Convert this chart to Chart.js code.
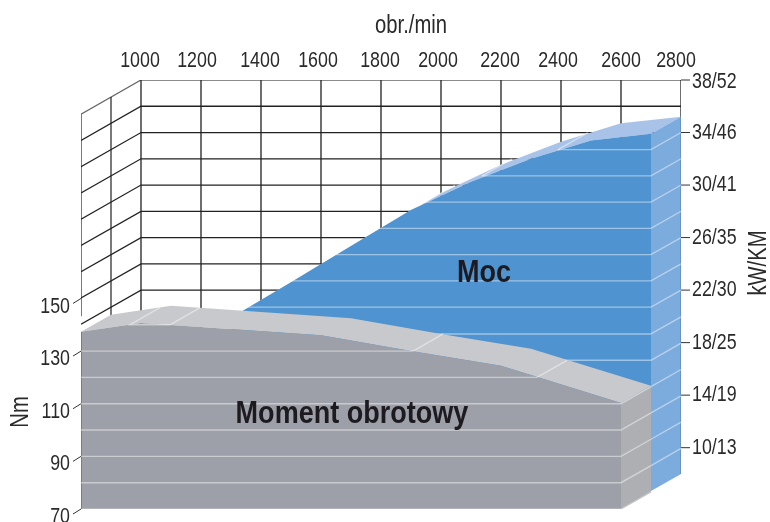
<!DOCTYPE html>
<html>
<head>
<meta charset="utf-8">
<title>Moc i moment obrotowy</title>
<script src="https://cdn.jsdelivr.net/npm/chart.js@4"></script>
<style>
    body { margin: 0; background: #fff; }
</style>
</head>
<body>
<canvas id="myChart" width="770" height="522"></canvas>
<script>
/* dane */
const rpmTicks = [1000, 1200, 1400, 1600, 1800, 2000, 2200, 2400, 2600, 2800];
const nmTicks = [150, 130, 110, 90, 70];
const kwTicks = [38, 34, 30, 26, 22, 18, 14, 10];
const kwLabels = ['38/52', '34/46', '30/41', '26/35', '22/30', '18/25', '14/19', '10/13'];

const torqueRpm = [1000, 1200, 1800, 2100, 2400, 2800];
const torqueNm = [137.3, 140.7, 136, 130, 124.4, 110.3];

const powerRpm = [1400, 1600, 1800, 2000, 2200, 2400, 2600, 2800];
const powerKw = [21.2, 23.9, 26.65, 29.4, 31.55, 33.3, 34.7, 35.2];

// linie siatki na szarej i niebieskiej scianie
const gridNm = [80, 90, 100, 110, 120, 130];
const gridNmEnd = [2800, 2800, 2800, 2800, 2520, 2107];
const gridKw = [22, 24, 26, 28, 30, 32, 34];
const gridKwStart = [1447, 1603, 1750, 1897, 2047, 2237, 2490];
const wallKw = [38, 36, 34, 32, 30, 28, 26, 24, 22];

// przesuniecie jednej warstwy w glab wykresu
const layerRpm = 100;
const layerNm = 6.5;
const layerKw = 1.3;
const kwBottom = 8;

const grayFront = '#9da0a8';
const grayTop = '#c7c9cd';
const graySide = '#adafb2';
const blueFront = '#4f94d0';
const blueTop = '#a9c3e8';
const blueSide = '#7cabdd';
const gridWhite = 'rgba(255, 255, 255, 0.45)';
const wallColor = '#222';

let datasets = [];

function addLine(points, axis, color, width) {
    datasets.push({
        data: points,
        yAxisID: axis,
        borderColor: color,
        borderWidth: width,
        pointRadius: 0,
        fill: false,
        tension: 0,
        order: 1000 - datasets.length
    });
}

function addArea(points, axis, color, base) {
    datasets.push({
        data: points,
        yAxisID: axis,
        borderWidth: 0,
        backgroundColor: color,
        pointRadius: 0,
        fill: { target: { value: base } },
        tension: 0,
        order: 1000 - datasets.length
    });
}

function addBand(upper, lower, axis, color) {
    addLine(lower, axis, 'transparent', 0);
    datasets.push({
        data: upper,
        yAxisID: axis,
        borderWidth: 0,
        backgroundColor: color,
        pointRadius: 0,
        fill: datasets.length - 1,
        tension: 0,
        order: 1000 - datasets.length
    });
}

/* sciany z siatka */
wallKw.forEach(function (kw, i) {
    addLine([{ x: 800, y: kw - 2 * layerKw }, { x: 1000, y: kw }, { x: 2800, y: kw }], 'yKw', i === 0 ? '#666' : wallColor, 1.3);
});
rpmTicks.forEach(function (rpm) {
    addLine([{ x: rpm, y: 38 }, { x: rpm, y: 18 }], 'yKw', wallColor, 1.3);
});
addLine([{ x: 800, y: 38 - 2 * layerKw }, { x: 800, y: 20 }], 'yKw', wallColor, 1.2);
addLine([{ x: 900, y: 38 - layerKw }, { x: 900, y: 20 }], 'yKw', wallColor, 1.2);

/* moc */
const powerLast = powerKw[powerKw.length - 1];
const powerFront = powerRpm.map(function (rpm, i) {
    return { x: rpm - layerRpm, y: powerKw[i] - layerKw };
});
const powerBack = powerRpm.map(function (rpm, i) {
    return { x: rpm, y: powerKw[i] };
});
addBand(
    [powerFront[0]].concat(powerBack),
    powerFront.concat([{ x: 2800, y: powerLast }]),
    'yKw', blueTop
);
addArea(powerFront, 'yKw', blueFront, kwBottom - layerKw);
addBand(
    [{ x: 2700, y: powerLast - layerKw }, { x: 2800, y: powerLast }],
    [{ x: 2700, y: kwBottom - layerKw }, { x: 2800, y: kwBottom }],
    'yKw', blueSide
);
addLine([{ x: 2800, y: powerLast }, { x: 2800, y: kwBottom }], 'yKw', '#5d84ae', 1.2);

gridKw.forEach(function (kw, i) {
    let start = gridKwStart[i] - layerRpm;
    addLine([{ x: start, y: kw - layerKw }, { x: 2700, y: kw - layerKw }, { x: 2800, y: kw }], 'yKw', gridWhite, 1.4);
    if (kw >= 30) {
        addLine([{ x: start, y: kw - layerKw }, { x: start + layerRpm, y: kw }], 'yKw', gridWhite, 1.4);
    }
});

// dalsze linie niebieskiej sciany, tez na poziomach momentu
gridNm.forEach(function (nm) {
    addLine([{ x: 2700, y: nm + layerNm }, { x: 2800, y: nm + 2 * layerNm }], 'yNm', gridWhite, 1.4);
});
addLine([{ x: 1907, y: 130 + layerNm }, { x: 2700, y: 130 + layerNm }], 'yNm', gridWhite, 1.4);
addLine([{ x: 2320, y: 120 + layerNm }, { x: 2700, y: 120 + layerNm }], 'yNm', gridWhite, 1.4);

/* moment */
const torqueLast = torqueNm[torqueNm.length - 1];
const torqueFront = torqueRpm.map(function (rpm, i) {
    return { x: rpm - 2 * layerRpm, y: torqueNm[i] };
});
const torqueBack = torqueRpm.map(function (rpm, i) {
    return { x: rpm - layerRpm, y: torqueNm[i] + layerNm };
});
addBand(
    [torqueFront[0]].concat(torqueBack),
    torqueFront.concat([{ x: 2700, y: torqueLast + layerNm }]),
    'yNm', grayTop
);
addArea(torqueFront, 'yNm', grayFront, 70);
addBand(
    [{ x: 2600, y: torqueLast }, { x: 2700, y: torqueLast + layerNm }],
    [{ x: 2600, y: 70 }, { x: 2700, y: 70 + layerNm }],
    'yNm', graySide
);
addLine([{ x: 800, y: 70 }, { x: 2600, y: 70 }, { x: 2700, y: 70 + layerNm }], 'yNm', '#c4c6ca', 1.2);
addLine([{ x: 800, y: 70 }, { x: 800, y: torqueNm[0] }], 'yNm', '#55585f', 1);

gridNm.forEach(function (nm, i) {
    let end = gridNmEnd[i];
    addLine([{ x: 800, y: nm }, { x: end - 2 * layerRpm, y: nm }, { x: end - layerRpm, y: nm + layerNm }], 'yNm', gridWhite, 1.4);
});
addLine([{ x: 1063, y: 146.5 }, { x: 963, y: 140 }, { x: 1097, y: 140 }, { x: 1197, y: 146.5 }], 'yNm', gridWhite, 1.4);

/* napisy: w oryginale czcionka waska, wiec zwezamy Liberation Sans */
const textFont = '"Liberation Sans", sans-serif';
const narrow = 0.81;
const narrowBold = 0.845;
const textColor = '#2a2a2c';
const captions = [
    { text: 'obr./min', x: 411, y: 26, angle: 0, font: '25px ' + textFont, color: textColor, squeeze: narrow },
    { text: 'Nm', x: 21, y: 412, angle: -90, font: '25px ' + textFont, color: textColor, squeeze: narrow },
    { text: 'kW/KM', x: 759, y: 263, angle: -90, font: '25px ' + textFont, color: textColor, squeeze: narrow },
    { text: 'Moc', x: 484, y: 273, angle: 0, font: 'bold 32px ' + textFont, color: '#1d1b20', squeeze: narrowBold },
    { text: 'Moment obrotowy', x: 352, y: 414, angle: 0, font: 'bold 32px ' + textFont, color: '#1d1b20', squeeze: narrowBold }
];
const rpmLabelShift = [-1, -4, -1, -3, -1, -3, -1, -3, 0, -5];

function putText(ctx, text, x, y, angle, font, color, align, squeeze) {
    ctx.save();
    ctx.translate(x, y);
    ctx.rotate(angle * Math.PI / 180);
    ctx.scale(squeeze, 1);
    ctx.font = font;
    ctx.fillStyle = color;
    ctx.textAlign = align;
    ctx.textBaseline = 'middle';
    ctx.fillText(text, 0, 0);
    ctx.restore();
}

const labelsPlugin = {
    id: 'captions',
    afterDraw: function (chart) {
        let ctx = chart.ctx;
        let xAxis = chart.scales.x;
        let yNm = chart.scales.yNm;
        let yKw = chart.scales.yKw;
        let area = chart.chartArea;
        let tickFont = '22px ' + textFont;

        ctx.save();
        ctx.strokeStyle = '#333';
        ctx.lineWidth = 1;
        // krotkie skosne kreski osi momentu
        nmTicks.forEach(function (v) {
            let y = yNm.getPixelForValue(v);
            ctx.beginPath();
            ctx.moveTo(area.left, y);
            ctx.lineTo(area.left - 8, y + 5);
            ctx.stroke();
        });
        // kreski osi mocy
        kwTicks.forEach(function (v) {
            let y = yKw.getPixelForValue(v);
            ctx.beginPath();
            ctx.moveTo(area.right, y);
            ctx.lineTo(area.right + 9, y);
            ctx.stroke();
        });
        ctx.restore();

        rpmTicks.forEach(function (v, i) {
            putText(ctx, String(v), xAxis.getPixelForValue(v) + rpmLabelShift[i], 61, 0, tickFont, textColor, 'center', narrow);
        });
        nmTicks.forEach(function (v) {
            putText(ctx, String(v), area.left - 11, yNm.getPixelForValue(v) + 8, 0, tickFont, textColor, 'right', narrow);
        });
        kwTicks.forEach(function (v, i) {
            putText(ctx, kwLabels[i], area.right + 11, yKw.getPixelForValue(v) + (i === 0 ? 2 : 0), 0, tickFont, textColor, 'left', narrow);
        });
        captions.forEach(function (c) {
            putText(ctx, c.text, c.x, c.y, c.angle, c.font, c.color, 'center', c.squeeze);
        });
    }
};

let ctx = document.getElementById('myChart').getContext('2d');

let myChart = new Chart(ctx, {
    type: 'line',
    data: { datasets: datasets },
    plugins: [labelsPlugin],
    options: {
        responsive: false,
        animation: false,
        events: [],
        layout: { padding: { bottom: 13 } },
        plugins: {
            legend: { display: false },
            tooltip: { enabled: false }
        },
        scales: {
            x: {
                type: 'linear',
                position: 'top',
                min: 800,
                max: 2800,
                afterFit: function (scale) { scale.height = 80; },
                grid: { display: false, drawTicks: false },
                border: { display: false },
                ticks: { display: false }
            },
            yNm: {
                type: 'linear',
                position: 'left',
                min: 70,
                max: 233,
                afterFit: function (scale) { scale.width = 81; },
                grid: { display: false, drawTicks: false },
                border: { display: false },
                ticks: { display: false }
            },
            yKw: {
                type: 'linear',
                position: 'right',
                min: 5.33,
                max: 38,
                afterFit: function (scale) { scale.width = 89; },
                grid: { display: false, drawTicks: false },
                border: { display: false },
                ticks: { display: false }
            }
        }
    }
});
</script>
</body>
</html>
